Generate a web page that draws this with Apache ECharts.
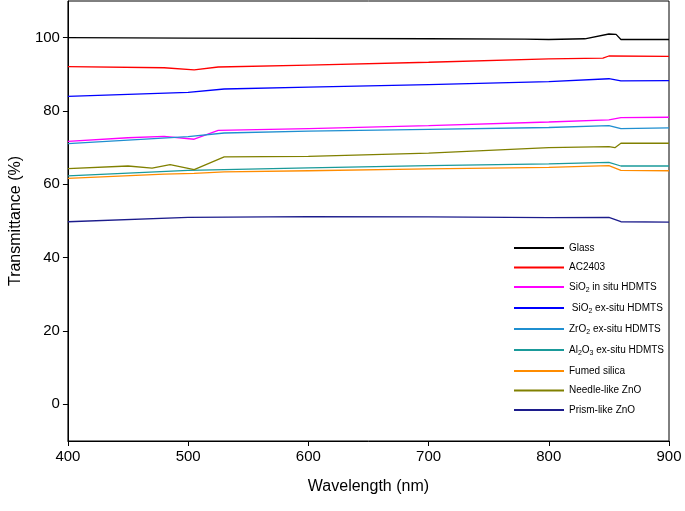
<!DOCTYPE html><html><head><meta charset="utf-8"><script src="https://cdn.jsdelivr.net/npm/echarts@6/dist/echarts.min.js"></script></head><body style="margin:0"><div id="c" style="width:685px;height:511px"></div><script>
const names=['Glass','AC2403','SiO2 in situ HDMTS','SiO2 ex-situ HDMTS','ZrO2 ex-situ HDMTS','Al2O3 ex-situ HDMTS','Fumed silica','Needle-like ZnO','Prism-like ZnO'];
const colors=['#000000','#ff0000','#ff00ff','#0000ff','#1f8fd0','#1a9a9a','#ff8c00','#808000','#1c1c8c'];
const glass=[[400,100],[500,99.9],[600,99.8],[700,99.7],[780,99.6],[800,99.5],[830,99.7],[850,101],[856,100.9],[860,99.5],[900,99.5]];
const ac=[[400,92.1],[480,91.8],[505,91.2],[525,92],[600,92.5],[700,93.3],[800,94.2],[845,94.4],[850,95],[900,94.9]];
const sio2in=[[400,71.7],[450,72.7],[480,73.1],[505,72.3],[525,74.7],[600,75.2],[700,76],[800,77],[850,77.6],[860,78.2],[900,78.3]];
const sio2ex=[[400,84],[500,85.1],[530,86],[600,86.5],[700,87.2],[800,88],[850,88.8],[860,88.2],[900,88.3]];
const zro2=[[400,71.1],[500,73],[530,74],[600,74.5],[700,75],[800,75.5],[850,76],[860,75.2],[900,75.4]];
const al2o3=[[400,62.3],[500,63.8],[600,64.5],[700,65.1],[800,65.6],[850,66],[860,65],[900,65]];
const fumed=[[400,61.6],[480,62.8],[505,63],[530,63.4],[600,63.7],[700,64.2],[800,64.6],[850,65.1],[860,63.8],[900,63.7]];
const needle=[[400,64.3],[450,65],[470,64.4],[485,65.4],[505,64],[530,67.5],[600,67.6],[700,68.5],[800,70],[850,70.3],[855,70],[860,71.2],[900,71.2]];
const prism=[[400,49.8],[500,51],[600,51.2],[700,51.1],[800,50.9],[850,51],[860,49.8],[900,49.7]];
const data=[glass,ac,sio2in,sio2ex,zro2,al2o3,fumed,needle,prism];
const yTicks=[0,20,40,60,80,100];
const labels={'SiO2 in situ HDMTS':'SiO{s|2} in situ HDMTS','SiO2 ex-situ HDMTS':' SiO{s|2} ex-situ HDMTS','ZrO2 ex-situ HDMTS':'ZrO{s|2} ex-situ HDMTS','Al2O3 ex-situ HDMTS':'Al{s|2}O{s|3} ex-situ HDMTS'};
const ch=echarts.init(document.getElementById('c'));
ch.setOption({animation:false,
grid:{left:65,right:16,top:1,bottom:70,show:true,borderColor:'#000',borderWidth:1},
legend:{orient:'vertical',left:509,top:238,itemGap:9.5,itemWidth:50,itemHeight:2,icon:'rect',
 data:names,formatter:n=>labels[n]||n,
 textStyle:{fontFamily:'Liberation Sans',fontSize:10,color:'#000',rich:{s:{fontSize:7,verticalAlign:'bottom',padding:[6,0,0,0]}}}},
xAxis:{type:'value',min:400,max:900,interval:100,name:'Wavelength (nm)',nameLocation:'middle',nameGap:38,
 nameTextStyle:{fontSize:16,fontFamily:'Liberation Sans',color:'#000'},
 axisLine:{onZero:false,lineStyle:{color:'#000'}},axisTick:{length:5,lineStyle:{color:'#000'}},
 axisLabel:{fontSize:15,color:'#000',fontFamily:'Liberation Sans'},splitLine:{show:false}},
yAxis:{type:'value',min:-10,max:110,name:'Transmittance (%)',nameLocation:'middle',nameGap:40,
 nameTextStyle:{fontSize:16,fontFamily:'Liberation Sans',color:'#000'},
 axisLine:{show:true,onZero:false,lineStyle:{color:'#000'}},axisTick:{show:true,length:5,customValues:yTicks,lineStyle:{color:'#000'}},
 axisLabel:{fontSize:15,color:'#000',fontFamily:'Liberation Sans',customValues:yTicks},splitLine:{show:false}},
series:names.map((n,i)=>({name:n,type:'line',data:data[i],showSymbol:false,symbol:'none',color:colors[i],lineStyle:{width:1.3,color:colors[i]}}))
});
</script></body></html>
